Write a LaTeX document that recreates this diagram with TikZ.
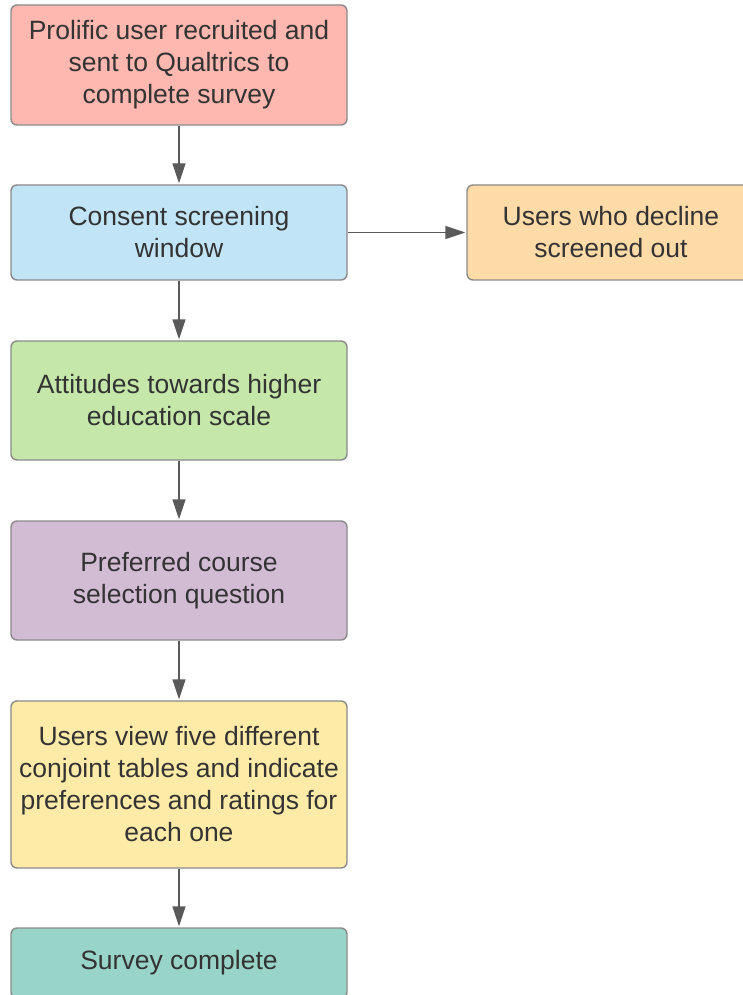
\documentclass[tikz,border=0pt]{standalone}
\usepackage{fontspec}
\setmainfont{Liberation Sans}
\usetikzlibrary{arrows.meta}
\definecolor{boxline}{HTML}{8A8A8A}
\definecolor{arrowgray}{HTML}{5A5A5A}
\definecolor{txt}{HTML}{333333}
\definecolor{fillred}{HTML}{FFB8B0}
\definecolor{fillblue}{HTML}{C1E4F6}
\definecolor{fillorange}{HTML}{FFDBA8}
\definecolor{fillgreen}{HTML}{C5E8AA}
\definecolor{fillpurple}{HTML}{D2BCD4}
\definecolor{fillyellow}{HTML}{FFEBA8}
\definecolor{fillteal}{HTML}{99D4C8}
\tikzset{
  flowbox/.style={draw=boxline, line width=1.4pt, rounded corners=6pt,
    minimum width=336pt, text=txt, align=center, inner sep=0pt,
    font=\fontsize{26.5pt}{32pt}\selectfont},
  flowarrow/.style={draw=arrowgray, line width=1.4pt,
    -{Triangle[length=20pt,width=13pt]}, shorten >=1pt},
}
\begin{document}
\begin{tikzpicture}[x=1pt,y=-1pt]
  \useasboundingbox (0,0) rectangle (743,995);
  \clip (0,0) rectangle (743,995);
  \node[flowbox, fill=fillred, minimum height=120pt] (recruit) at (179,65)
    {Prolific user recruited and\\sent to Qualtrics to\\complete survey};
  \node[flowbox, fill=fillblue, minimum height=95pt] (consent) at (179,232.5)
    {Consent screening\\window};
  \node[flowbox, fill=fillorange, minimum height=95pt, minimum width=288pt] (decline) at (611,232.5)
    {Users who decline\\screened out};
  \node[flowbox, fill=fillgreen, minimum height=119pt] (attitudes) at (179,400.5)
    {Attitudes towards higher\\education scale};
  \node[flowbox, fill=fillpurple, minimum height=119pt] (course) at (179,580.5)
    {Preferred course\\selection question};
  \node[flowbox, fill=fillyellow, minimum height=167pt] (conjoint) at (179,784.5)
    {Users view five different\\conjoint tables and indicate\\preferences and ratings for\\each one};
  \node[flowbox, fill=fillteal, minimum height=70pt] (done) at (179,963)
    {Survey complete};
  \draw[flowarrow] (recruit) -- (consent);
  \draw[flowarrow] (consent) -- (decline);
  \draw[flowarrow] (consent) -- (attitudes);
  \draw[flowarrow] (attitudes) -- (course);
  \draw[flowarrow] (course) -- (conjoint);
  \draw[flowarrow] (conjoint) -- (done);
\end{tikzpicture}
\end{document}
